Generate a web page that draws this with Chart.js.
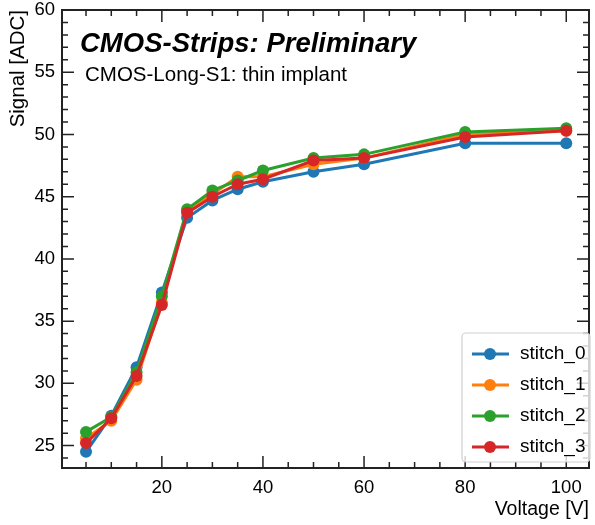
<!DOCTYPE html>
<html>
<head>
<meta charset="utf-8">
<script src="https://cdn.jsdelivr.net/npm/chart.js@4.4.1/dist/chart.umd.min.js"></script>
<style>
  html, body { margin: 0; padding: 0; background: #fff; }
  #wrap { width: 595px; height: 525px; }
</style>
</head>
<body>
<div id="wrap"><canvas id="signalChart" width="595" height="525"></canvas></div>
<script>
// data
const voltages = [5, 10, 15, 20, 25, 30, 35, 40, 50, 60, 80, 100];
const stitch0 = [24.5, 27.4, 31.3, 37.3, 43.3, 44.7, 45.6, 46.2, 47.0, 47.6, 49.3, 49.3];
const stitch1 = [25.6, 27.0, 30.3, 36.5, 43.9, 45.2, 46.6, 46.6, 47.6, 48.1, 50.0, 50.3];
const stitch2 = [26.1, 27.3, 30.9, 37.0, 44.0, 45.5, 46.3, 47.1, 48.1, 48.4, 50.2, 50.5];
const stitch3 = [25.2, 27.2, 30.6, 36.3, 43.7, 45.0, 46.0, 46.4, 47.9, 48.1, 49.8, 50.3];
const seriesNames = ['stitch_0', 'stitch_1', 'stitch_2', 'stitch_3'];
const xTicks = [20, 40, 60, 80, 100];
const yTicks = [25, 30, 35, 40, 45, 50, 55, 60];

const colors = ['#1f77b4', '#ff7f0e', '#2ca02c', '#d62728'];
const FONT = '"Liberation Sans", Arial, Helvetica, sans-serif';

function makeSet(i, values) {
  return {
    label: seriesNames[i],
    data: voltages.map((v, k) => ({ x: v, y: values[k] })),
    borderColor: colors[i],
    backgroundColor: colors[i],
    borderWidth: 3,
    pointRadius: 6,
    pointHoverRadius: 6,
    pointBorderWidth: 0,
    order: 3 - i  // last series on top, like matplotlib
  };
}

// inward ticks on all four sides + frame
const frameTicks = {
  id: 'frameTicks',
  afterDraw(chart) {
    const ctx = chart.ctx;
    const a = chart.chartArea;
    const xs = chart.scales.x, ys = chart.scales.y;
    ctx.save();
    ctx.strokeStyle = '#222';
    ctx.lineWidth = 1.5;
    for (let v = 5; v <= 100; v += 5) {
      const px = xs.getPixelForValue(v);
      const len = v % 20 === 0 ? 12 : 6;
      ctx.beginPath();
      ctx.moveTo(px, a.bottom); ctx.lineTo(px, a.bottom - len);
      ctx.moveTo(px, a.top); ctx.lineTo(px, a.top + len);
      ctx.stroke();
    }
    for (let v = 24; v <= 60; v += 1) {
      const py = ys.getPixelForValue(v);
      const len = v % 5 === 0 ? 12 : 6;
      ctx.beginPath();
      ctx.moveTo(a.left, py); ctx.lineTo(a.left + len, py);
      ctx.moveTo(a.right, py); ctx.lineTo(a.right - len, py);
      ctx.stroke();
    }
    ctx.lineWidth = 2;
    ctx.strokeRect(a.left, a.top, a.right - a.left, a.bottom - a.top);
    ctx.restore();
  }
};

// header text and legend inside the axes
const overlay = {
  id: 'overlay',
  afterDraw(chart) {
    const ctx = chart.ctx;
    const a = chart.chartArea;
    ctx.save();
    ctx.fillStyle = '#000';
    ctx.textBaseline = 'alphabetic';
    ctx.textAlign = 'left';
    ctx.font = 'italic bold 27.5px ' + FONT;
    ctx.fillText('CMOS-Strips: Preliminary', a.left + 18, 52);
    ctx.font = '20.5px ' + FONT;
    ctx.fillText('CMOS-Long-S1: thin implant', a.left + 23, 81);

    // legend box
    const bx = 462, by = 333, bw = 128, bh = 129;
    ctx.fillStyle = 'rgba(255,255,255,0.8)';
    ctx.strokeStyle = '#d0d0d0';
    ctx.lineWidth = 1.2;
    ctx.beginPath();
    ctx.roundRect(bx, by, bw, bh, 4);
    ctx.fill(); ctx.stroke();
    ctx.font = '19px ' + FONT;
    ctx.textBaseline = 'middle';
    chart.data.datasets.forEach((ds, i) => {
      const y = by + 21 + i * 31;
      ctx.strokeStyle = ds.borderColor;
      ctx.lineWidth = 3;
      ctx.beginPath();
      ctx.moveTo(bx + 10, y); ctx.lineTo(bx + 47, y);
      ctx.stroke();
      ctx.fillStyle = ds.backgroundColor;
      ctx.beginPath();
      ctx.arc(bx + 28, y, 6, 0, Math.PI * 2);
      ctx.fill();
      ctx.fillStyle = '#000';
      ctx.fillText(ds.label, bx + 58, y);
    });
    ctx.restore();
  }
};

new Chart(document.getElementById('signalChart'), {
  type: 'line',
  data: {
    datasets: [makeSet(0, stitch0), makeSet(1, stitch1), makeSet(2, stitch2), makeSet(3, stitch3)]
  },
  options: {
    responsive: false,
    animation: false,
    layout: { padding: { top: 10, right: 3, left: 0, bottom: 0 } },
    plugins: { legend: { display: false }, tooltip: { enabled: false } },
    scales: {
      x: {
        type: 'linear',
        min: 0.25,
        max: 104.5,
        grid: { display: false, drawTicks: false },
        border: { display: false },
        afterBuildTicks: s => { s.ticks = xTicks.map(v => ({ value: v })); },
        afterFit: s => { s.height = 57; },
        ticks: { color: '#000', padding: 9, maxRotation: 0, font: { family: FONT, size: 18.5 } },
        title: { display: true, text: 'Voltage [V]', align: 'end', color: '#000', padding: { top: 5 }, font: { family: FONT, size: 19.5 } }
      },
      y: {
        min: 23.2,
        max: 60,
        grid: { display: false, drawTicks: false },
        border: { display: false },
        afterBuildTicks: s => { s.ticks = yTicks.map(v => ({ value: v })); },
        afterFit: s => { s.width = 62; s.paddingTop = 0; },
        ticks: { color: '#000', padding: 7, font: { family: FONT, size: 18.5, lineHeight: 0.5 } },
        title: { display: true, text: 'Signal [ADC]', align: 'end', color: '#000', padding: { top: 6, bottom: 0 }, font: { family: FONT, size: 20.5 } }
      }
    }
  },
  plugins: [frameTicks, overlay]
});
</script>
</body>
</html>
